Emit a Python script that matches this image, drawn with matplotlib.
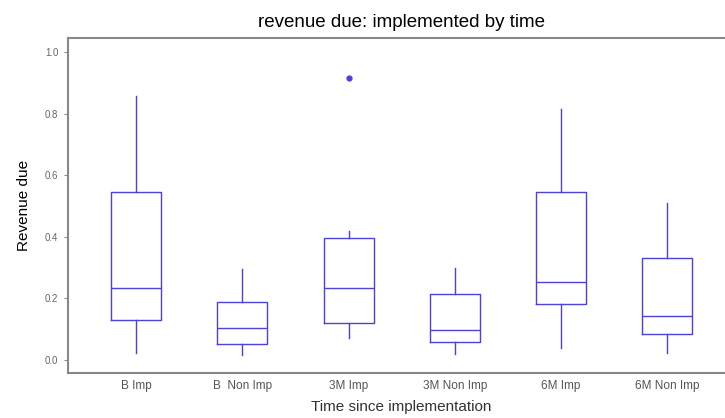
import matplotlib.pyplot as plt

# valores (quartis e bigodes de cada grupo)
grupos = ["B Imp", "B  Non Imp", "3M Imp", "3M Non Imp", "6M Imp", "6M Non Imp"]
bigode_inf = [0.023, 0.016, 0.070, 0.020, 0.039, 0.023]
q1 = [0.130, 0.052, 0.120, 0.058, 0.182, 0.084]
mediana = [0.234, 0.104, 0.234, 0.097, 0.253, 0.143]
q3 = [0.545, 0.188, 0.396, 0.214, 0.545, 0.331]
bigode_sup = [0.857, 0.295, 0.420, 0.300, 0.815, 0.510]
outliers = [[], [], [0.915], [], [], []]

cor = "#4b42d6"

stats = []
for i in range(len(grupos)):
    stats.append({
        "label": grupos[i],
        "whislo": bigode_inf[i],
        "q1": q1[i],
        "med": mediana[i],
        "q3": q3[i],
        "whishi": bigode_sup[i],
        "fliers": outliers[i],
    })

plt.rcParams['font.family'] = ['Liberation Sans', 'DejaVu Sans']
fig = plt.figure(figsize=(7.25, 4.18), dpi=100)
ax = fig.add_axes([0.094, 0.108, 0.92, 0.801])

estilo = dict(color=cor, linewidth=1.0)
ax.bxp(stats, widths=0.47, showcaps=False,
       boxprops=estilo, whiskerprops=estilo, medianprops=estilo,
       flierprops=dict(marker='o', markersize=3.5, markerfacecolor=cor,
                       markeredgecolor=cor))

ax.set_xlim(0.36, 6.64)
ax.set_ylim(-0.042, 1.045)
ax.set_yticks([0.0, 0.2, 0.4, 0.6, 0.8, 1.0])
ax.set_yticklabels(["0.0", "0.2", "0.4", "0.6", "0.8", "1.0"],
                   fontsize=7, color="#666666")
ax.set_xticklabels(grupos, fontsize=8.5, color="#555555")
ax.tick_params(axis='x', length=0, pad=5)
ax.tick_params(axis='y', length=3, color="#888888", pad=4)

for lado in ["left", "bottom", "top"]:
    ax.spines[lado].set_color("#888888")
    ax.spines[lado].set_linewidth(1.5)
ax.spines["right"].set_visible(False)

ax.set_title("revenue due: implemented by time", fontsize=13.5, pad=8)
ax.set_xlabel("Time since implementation", fontsize=11, color="#333333",
              labelpad=6)
ax.set_ylabel("Revenue due", fontsize=11, labelpad=10)

fig.savefig("out.png", dpi=100)
